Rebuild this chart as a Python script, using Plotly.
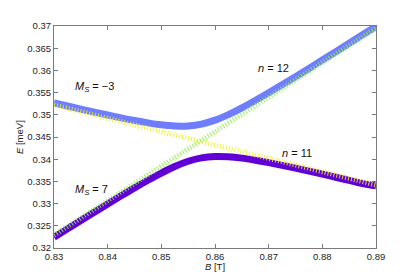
import plotly.graph_objects as go

# Magnetic field B [T]
B = [0.8300, 0.8325, 0.8350, 0.8375, 0.8400, 0.8425, 0.8450, 0.8475, 0.8500,
     0.8525, 0.8550, 0.8575, 0.8600, 0.8625, 0.8650, 0.8675, 0.8700, 0.8725,
     0.8750, 0.8775, 0.8800, 0.8825, 0.8850, 0.8875, 0.8900]

# Upper adiabatic branch E [meV]
E_upper = [0.35269, 0.35198, 0.35129, 0.35061, 0.34995, 0.34931, 0.34872, 0.34819,
           0.34775, 0.34748, 0.34749, 0.34791, 0.34879, 0.35005, 0.35156, 0.35322,
           0.35496, 0.35676, 0.35859, 0.36045, 0.36233, 0.36421, 0.36611, 0.36802,
           0.36992]

# Lower adiabatic branch E [meV]
E_lower = [0.32242, 0.32431, 0.32620, 0.32807, 0.32992, 0.33175, 0.33354, 0.33526,
           0.33689, 0.33835, 0.33953, 0.34031, 0.34062, 0.34055, 0.34024, 0.33977,
           0.33922, 0.33862, 0.33798, 0.33731, 0.33663, 0.33593, 0.33523, 0.33451,
           0.33400]

# Diabatic states (straight lines)
B_diab = [0.83, 0.89]
E_ms_m3 = [0.3522, 0.3342]   # M_S = -3 (yellow)
E_ms_7 = [0.3229, 0.3695]    # M_S = 7 (green)

FONT = "Liberation Sans, Arial, Helvetica, sans-serif"

fig = go.Figure()
fig.add_trace(go.Scatter(x=B, y=E_upper, mode="lines", line=dict(color="#6f7dff", width=7, shape="spline"),
                         hoverinfo="skip"))
fig.add_trace(go.Scatter(x=B, y=E_lower, mode="lines", line=dict(color="#6000d6", width=7, shape="spline"),
                         hoverinfo="skip"))
fig.add_trace(go.Scatter(x=B_diab, y=E_ms_m3, mode="lines", opacity=0.9,
                         line=dict(color="#f4f41c", width=5, dash="1px,2px"), hoverinfo="skip"))
fig.add_trace(go.Scatter(x=B_diab, y=E_ms_7, mode="lines", opacity=0.9,
                         line=dict(color="#8ff04c", width=5, dash="1px,2px"), hoverinfo="skip"))

axis_common = dict(showline=True, linecolor="#7a7a7a", linewidth=1, mirror="ticks",
                   ticks="inside", ticklen=4, tickcolor="#7a7a7a", showgrid=False,
                   zeroline=False, tickfont=dict(family=FONT, size=9.5, color="#222"))

fig.update_xaxes(range=[0.83, 0.89], tickvals=[0.83, 0.84, 0.85, 0.86, 0.87, 0.88, 0.89],
                 ticktext=["0.83", "0.84", "0.85", "0.86", "0.87", "0.88", "0.89"], **axis_common)
fig.update_yaxes(range=[0.32, 0.37],
                 tickvals=[0.32, 0.325, 0.33, 0.335, 0.34, 0.345, 0.35, 0.355, 0.36, 0.365, 0.37],
                 ticktext=["0.32", "0.325", "0.33", "0.335", "0.34", "0.345", "0.35", "0.355",
                           "0.36", "0.365", "0.37"], **axis_common)

ann_font = dict(family=FONT, size=11, color="#111")
annotations = [
    dict(x=0.8335, y=0.3562, text="<i>M</i><sub><i>S</i></sub> = −3", xanchor="left", yanchor="middle"),
    dict(x=0.8335, y=0.3330, text="<i>M</i><sub><i>S</i></sub> = 7", xanchor="left", yanchor="middle"),
    dict(x=0.8709, y=0.3606, text="<i>n</i> = 12", xanchor="center", yanchor="middle"),
    dict(x=0.8753, y=0.3415, text="<i>n</i> = 11", xanchor="center", yanchor="middle"),
]
for a in annotations:
    fig.add_annotation(xref="x", yref="y", showarrow=False, font=ann_font, **a)

fig.add_annotation(xref="paper", yref="paper", x=0.5, y=0, yshift=-18, text="<i>B</i> [T]",
                   showarrow=False, xanchor="center", yanchor="middle",
                   font=dict(family=FONT, size=9.5, color="#222"))
fig.add_annotation(xref="paper", yref="paper", x=0, y=0.5, xshift=-35, text="<i>E</i> [meV]",
                   showarrow=False, textangle=-90, xanchor="center", yanchor="middle",
                   font=dict(family=FONT, size=9.5, color="#222"))

# The page body has an 8px margin, so the figure is sized/offset to place the axes box
# at the same window position as the reference.
fig.update_layout(width=407, height=272, margin=dict(l=46, r=39, t=12, b=32),
                  paper_bgcolor="white", plot_bgcolor="white", showlegend=False)

fig.write_html("out.html")
